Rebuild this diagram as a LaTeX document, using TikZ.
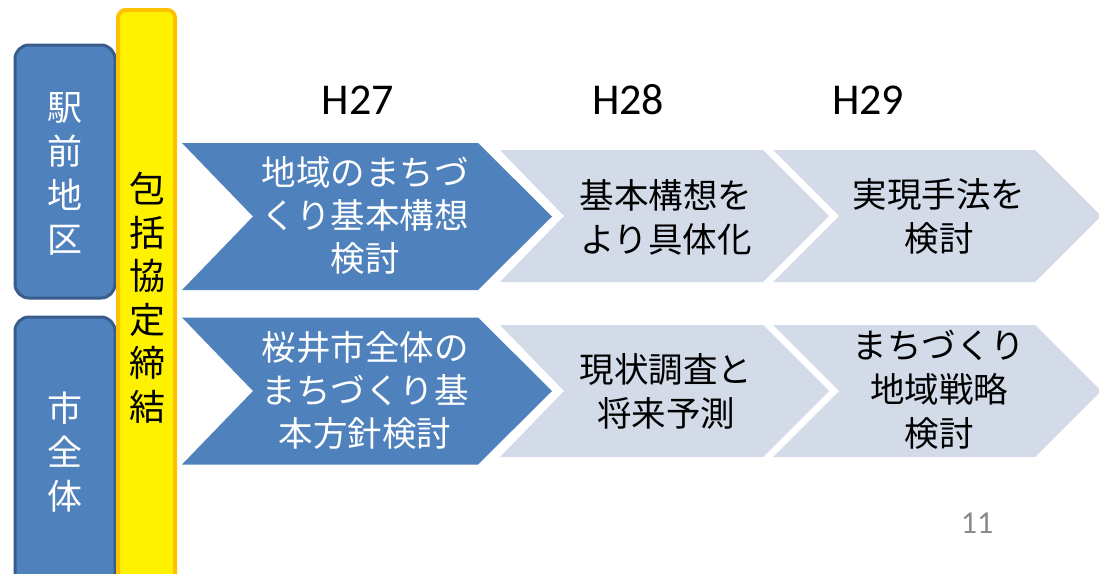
\documentclass[tikz,border=0pt]{standalone}
\usepackage{fontspec}
\newfontfamily\jpfont{Noto Sans CJK JP}
\newfontfamily\calfont{Carlito}
\definecolor{bluefill}{HTML}{4F81BD}
\definecolor{blueedge}{HTML}{385D8A}
\definecolor{lightfill}{HTML}{D3DBE9}
\definecolor{orangeedge}{HTML}{FFC000}
\definecolor{pagegray}{HTML}{8C8C8C}
\begin{document}
\begin{tikzpicture}[x=1pt,y=-1pt,
  sidebox/.style={fill=bluefill,draw=blueedge,line width=3pt,rounded corners=14pt},
  agreebox/.style={fill=yellow,draw=orangeedge,line width=4pt,rounded corners=8pt},
  bluechev/.style={fill=bluefill},
  lightchev/.style={fill=lightfill},
  sidetext/.style={text=white,font=\jpfont\fontsize{35}{44}\selectfont,align=center,inner sep=0pt},
  agreetext/.style={text=black,font=\jpfont\fontsize{36}{43.5}\selectfont,align=center,inner sep=0pt},
  whitetext/.style={text=white,font=\jpfont\fontsize{34.5}{43}\selectfont,align=center,inner sep=0pt},
  blacktext/.style={text=black,font=\jpfont\fontsize{34.5}{44}\selectfont,align=center,inner sep=0pt},
  yeartext/.style={text=black,font=\calfont\fontsize{44}{48}\selectfont,inner sep=0pt}]
\useasboundingbox (0,0) rectangle (1099,573);
\clip (0,0) rectangle (1099,573);
\fill[white] (0,0) rectangle (1099,573);

% side boxes
\draw[sidebox] (15,45) rectangle (115,298);
\draw[sidebox] (15,317) rectangle (115,620);
\draw[agreebox] (118,10) rectangle (175,620);
\node[sidetext] (ekimae) at (65,174) {駅\\前\\地\\区};
\node[sidetext] (shizentai) at (65,452) {市\\全\\体};
\node[agreetext] (kyotei) at (147,298) {包\\括\\協\\定\\締\\結};

% year headers
\node[yeartext] (h27) at (358,100) {H27};
\node[yeartext] (h28) at (628,100) {H28};
\node[yeartext] (h29) at (868,100) {H29};

% top row
\fill[bluechev] (182,143) -- (478,143) -- (552,216.5) -- (478,290) -- (182,290) -- (253,216.5) -- cycle;
\fill[lightchev] (500,150) -- (763,150) -- (829,216) -- (763,282) -- (500,282) -- (564,216) -- cycle;
\fill[lightchev] (773,150) -- (1035,150) -- (1101,216) -- (1035,282) -- (773,282) -- (839,216) -- cycle;
\node[whitetext] (t1) at (365,215) {地域のまちづ\\くり基本構想\\検討};
\node[blacktext] (t2) at (666,217) {基本構想を\\より具体化};
\node[blacktext] (t3) at (939,216) {実現手法を\\検討};

% bottom row
\fill[bluechev] (182,317.5) -- (478,317.5) -- (552,391) -- (478,464.5) -- (182,464.5) -- (253,391) -- cycle;
\fill[lightchev] (500,325) -- (763,325) -- (829,391) -- (763,457) -- (500,457) -- (564,391) -- cycle;
\fill[lightchev] (773,325) -- (1035,325) -- (1101,391) -- (1035,457) -- (773,457) -- (839,391) -- cycle;
\node[whitetext] (b1) at (365,390) {桜井市全体の\\まちづくり基\\本方針検討};
\node[blacktext] (b2) at (666,391) {現状調査と\\将来予測};
\node[blacktext] (b3) at (939,390) {まちづくり\\地域戦略\\検討};

% page number
\node[text=pagegray,font=\calfont\fontsize{32}{36}\selectfont,inner sep=0pt] (page) at (977,523) {11};
\end{tikzpicture}
\end{document}
